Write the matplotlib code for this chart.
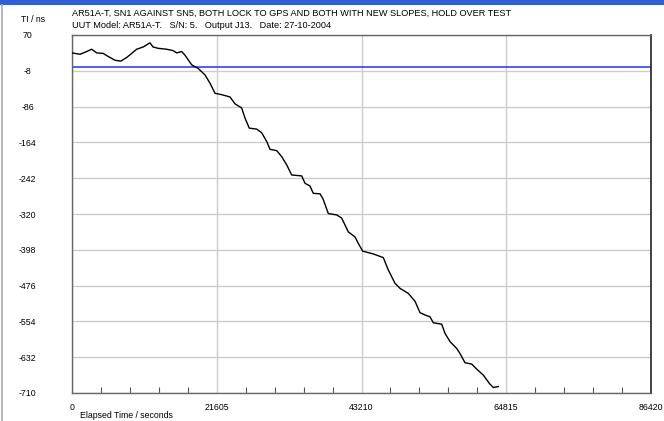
import matplotlib
matplotlib.use("Agg")
import matplotlib.pyplot as plt
from matplotlib.patches import Rectangle
from matplotlib.lines import Line2D
from matplotlib.ticker import MultipleLocator

plt.rcParams['font.family'] = ['Liberation Sans Narrow', 'Liberation Sans', 'DejaVu Sans']

# time interval trace (seconds, ns)
elapsed = [0, 1194, 2194, 2940, 3687, 4627, 5672, 6418, 7269, 8165, 8911, 9657,
           10642, 11642, 12090, 12836, 14135, 15075, 15627, 16374, 16866, 17866,
           18851, 19852, 20598, 21344, 22344, 23583, 24329, 25329, 25822, 26463,
           27568, 28314, 29060, 29553, 30553, 31299, 32045, 32792, 34284, 34777,
           35523, 36016, 37016, 37464, 38255, 39509, 40255, 41240, 42240, 42733,
           43390, 44972, 46465, 47211, 48211, 48957, 50196, 51196, 51942, 52688,
           53435, 53927, 55181, 55673, 56419, 57419, 57912, 58658, 59658, 60404,
           61389, 62285, 62882, 63628]
ti_ns = [31, 28, 34, 39, 31, 30, 21, 15, 13, 21, 30, 39,
         44, 53, 44, 41, 39, 36, 31, 34, 26, 5,
         -3, -17, -35, -57, -60, -65, -80, -89, -111, -133,
         -135, -143, -162, -179, -182, -195, -213, -235, -237, -253,
         -259, -275, -276, -287, -319, -322, -329, -359, -370, -384,
         -401, -407, -415, -442, -471, -482, -493, -510, -535, -540,
         -544, -557, -560, -580, -598, -613, -624, -644, -647, -658,
         -671, -689, -698, -696]
reference_level = 0

x_ticks = [0, 21605, 43210, 64815, 86420]
y_ticks = [70, -8, -86, -164, -242, -320, -398, -476, -554, -632, -710]

title1 = "AR51A-T, SN1 AGAINST SN5, BOTH LOCK TO GPS AND BOTH WITH NEW SLOPES, HOLD OVER TEST"
title2 = "UUT Model: AR51A-T.   S/N: 5.   Output J13.   Date: 27-10-2004"

W, H = 664, 421
fig = plt.figure(figsize=(W / 100, H / 100), dpi=100)
fig.patch.set_facecolor('white')

# axes box in pixels: left 72, right 651, top 35, bottom 393
ax = fig.add_axes([72 / W, (H - 393) / H, (651 - 72) / W, (393 - 35) / H])
ax.set_xlim(0, 86420)
ax.set_ylim(-710, 70)

ax.set_xticks(x_ticks)
ax.set_xticklabels([str(v) for v in x_ticks])
ax.xaxis.set_minor_locator(MultipleLocator(4321))
ax.set_yticks(y_ticks)
ax.set_yticklabels([str(v) for v in y_ticks])

ax.grid(True, which='major', color='#cccccc', linewidth=1.0)
ax.set_axisbelow(True)

ax.tick_params(axis='x', which='both', direction='in', length=4, width=0.8,
               color='#555555', labelsize=6.3, pad=7, top=False)
ax.tick_params(axis='x', which='major', length=0)
ax.tick_params(axis='y', length=0, labelsize=6.3, pad=32)
for lab in ax.get_yticklabels():
    lab.set_horizontalalignment('center')

ax.axhline(reference_level, color='#3344ee', linewidth=1.2, zorder=2)
ax.plot(elapsed, ti_ns, color='black', linewidth=1.0, zorder=3)

for side in ['left', 'bottom', 'top']:
    ax.spines[side].set_color('#666666')
    ax.spines[side].set_linewidth(1.0)
ax.spines['right'].set_color('#222222')
ax.spines['right'].set_linewidth(1.2)

fig.text(72 / W, 1 - 13 / H, title1, fontsize=6.6, va='center', ha='left')
fig.text(72 / W, 1 - 25 / H, title2, fontsize=6.6, va='center', ha='left')
fig.text(33 / W, 1 - 20 / H, "TI / ns", fontsize=6.3, va='center', ha='center')
fig.text(80 / W, 1 - 416 / H, "Elapsed Time / seconds", fontsize=6.3,
         va='center', ha='left')

# blue banner strip at top and left border
fig.patches.append(Rectangle((0, 1 - 5 / H), 1, 5 / H, transform=fig.transFigure,
                             facecolor='#2f5fd0', edgecolor='none'))
fig.lines.append(Line2D([1.5 / W, 1.5 / W], [0, 1 - 5 / H], transform=fig.transFigure,
                        color='#aaaaaa', linewidth=1.2))

fig.savefig('out.png', dpi=100)
